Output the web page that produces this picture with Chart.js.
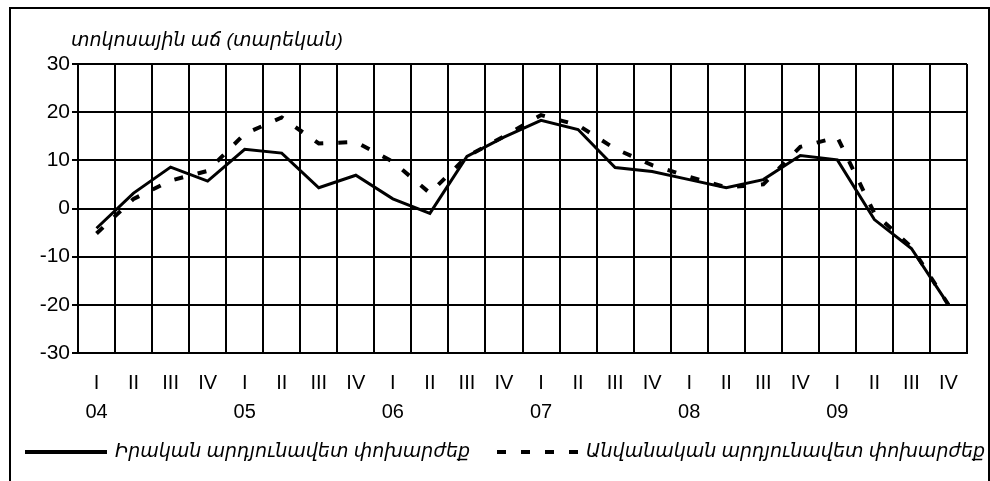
<!DOCTYPE html>
<html>
<head>
<meta charset="utf-8">
<script src="https://cdn.jsdelivr.net/npm/chart.js@4"></script>
<style>
  body { margin: 0; background: #fff; }
  #wrap { position: relative; width: 990px; height: 481px; }
  #frame { position: absolute; left: 9px; top: 7px; width: 977px; height: 480px;
           border: 2px solid #000; border-bottom: none; }
  canvas { position: absolute; left: 0; top: 0; }
</style>
</head>
<body>
<div id="wrap">
  <div id="frame"></div>
  <canvas id="ctx" width="990" height="481"></canvas>
</div>
<script>
const quarters = ["I", "II", "III", "IV", "I", "II", "III", "IV", "I", "II", "III", "IV",
                  "I", "II", "III", "IV", "I", "II", "III", "IV", "I", "II", "III", "IV"];
const years = ["04", "", "", "", "05", "", "", "", "06", "", "", "",
               "07", "", "", "", "08", "", "", "", "09", "", "", ""];
// Իրական արդյունավետ փոխարժեք
const realRate = [-4.1, 3.2, 8.6, 5.7, 12.3, 11.5, 4.3, 6.9, 2.0, -1.0, 10.8, 14.8,
                  18.3, 16.4, 8.5, 7.7, 6.0, 4.3, 6.0, 11.0, 10.1, -2.3, -8.3, -20.0];
// Անվանական արդյունավետ փոխարժեք
const nominalRate = [-5.2, 2.0, 5.8, 7.8, 15.5, 18.9, 13.5, 13.8, 9.7, 3.2, 10.8, 15.0,
                     19.4, 17.3, 12.4, 9.0, 6.6, 4.4, 5.0, 12.8, 14.8, -1.0, -8.0, -20.0];
const yTicks = [-30, -20, -10, 0, 10, 20, 30];
const yTitle = "տոկոսային աճ (տարեկան)";

const fontFam = "'Liberation Sans', Arial, 'DejaVu Sans', sans-serif";

// axis title at top left + legend at the bottom (line sample + italic text)
const extrasPlugin = {
  id: "extras",
  afterDraw(chart) {
    const c = chart.ctx;
    c.save();
    c.font = "italic 19px " + fontFam;
    c.fillStyle = "#000";
    c.textBaseline = "middle";
    c.textAlign = "left";
    c.fillText(yTitle, 71, 41);

    const spots = [{ x: 25, w: 82 }, { x: 497, w: 81 }];
    const y = 452;
    chart.data.datasets.forEach((ds, i) => {
      const s = spots[i];
      c.strokeStyle = ds.borderColor;
      c.lineWidth = 4;
      c.setLineDash(ds.borderDash || []);
      c.beginPath();
      c.moveTo(s.x, y);
      c.lineTo(s.x + s.w, y);
      c.stroke();
      c.setLineDash([]);
      c.fillText(ds.label, s.x + s.w + 8, y);
    });
    c.restore();
  }
};

const ctx = document.getElementById("ctx").getContext("2d");

const pintar = () => {
  new Chart(ctx, {
    type: "line",
    data: {
      labels: quarters.map((q, i) => [q, years[i]]),
      datasets: [
        {
          label: "Իրական արդյունավետ փոխարժեք",
          data: realRate,
          borderColor: "#000",
          backgroundColor: "#000",
          borderWidth: 3,
          pointRadius: 0,
          tension: 0,
        },
        {
          label: "Անվանական արդյունավետ փոխարժեք",
          data: nominalRate,
          borderColor: "#000",
          backgroundColor: "#000",
          borderWidth: 4,
          borderDash: [9, 15],
          pointRadius: 0,
          tension: 0,
        },
      ],
    },
    options: {
      responsive: false,
      animation: false,
      layout: { padding: { top: 64, left: 0, right: 23, bottom: 62.5 } },
      plugins: {
        tooltip: { enabled: false },
        legend: { display: false },
      },
      scales: {
        x: {
          offset: true,
          grid: { offset: true, color: "#000", lineWidth: 2, drawTicks: false },
          border: { color: "#000", width: 2 },
          ticks: {
            color: "#000",
            autoSkip: false,
            maxRotation: 0,
            padding: 15.5,
            font: { family: fontFam, size: 20, lineHeight: 1.45 },
          },
          afterFit: (s) => { s.height = 65.5; },
        },
        y: {
          min: -30,
          max: 30,
          afterBuildTicks: (s) => { s.ticks = yTicks.map((v) => ({ value: v })); },
          grid: { color: "#000", lineWidth: 2, tickLength: 6 },
          border: { color: "#000", width: 2 },
          ticks: {
            color: "#000",
            padding: 2,
            font: { family: fontFam, size: 21 },
          },
          afterFit: (s) => { s.width = 78; },
        },
      },
    },
    plugins: [extrasPlugin],
  });
};

window.addEventListener("load", pintar);
</script>
</body>
</html>
